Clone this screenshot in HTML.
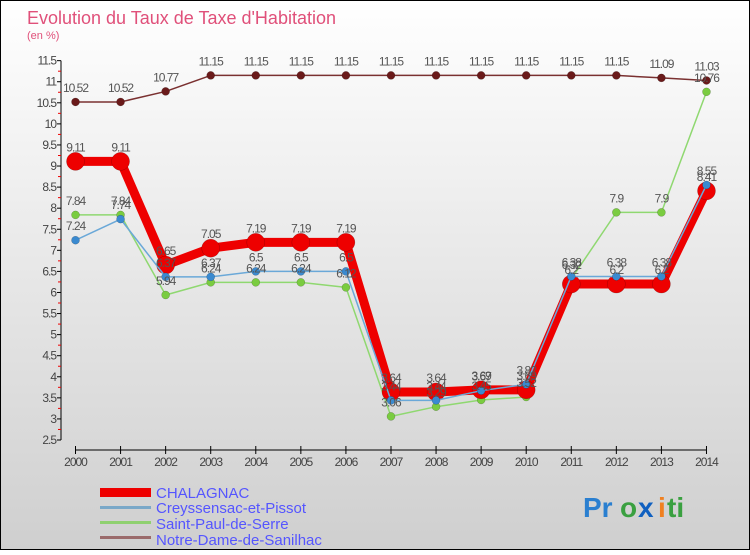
<!DOCTYPE html>
<html><head><meta charset="utf-8"><style>
body{margin:0;width:750px;height:550px;overflow:hidden;font-family:"Liberation Sans",sans-serif}
</style></head><body>
<svg width="750" height="550" xmlns="http://www.w3.org/2000/svg" id="svg">
<defs><linearGradient id="bg" x1="0" y1="0" x2="0" y2="1"><stop offset="0" stop-color="#ffffff"/><stop offset="1" stop-color="#cfcfcf"/></linearGradient></defs>
<rect x="0.5" y="0.5" width="749" height="549" fill="url(#bg)" stroke="#000"/>
<text x="27" y="24" font-size="18" fill="#e0507a">Evolution du Taux de Taxe d'Habitation</text>
<text x="27" y="39" font-size="11" fill="#e0507a">(en %)</text>
<g id="axes"></g><g id="series"></g><g id="labels"></g>
<g font-size="15" fill="#5555ff">
<rect x="100" y="488" width="51" height="9" fill="#ee0000"/><text x="156" y="498">CHALAGNAC</text>
<rect x="100" y="506" width="51" height="3" fill="#7aa8c8"/><text x="156" y="513">Creyssensac-et-Pissot</text>
<rect x="100" y="521" width="51" height="3" fill="#8fd070"/><text x="156" y="529">Saint-Paul-de-Serre</text>
<rect x="100" y="536" width="51" height="3" fill="#9a6a6a"/><text x="156" y="545">Notre-Dame-de-Sanilhac</text>
</g>
<g font-size="28" font-weight="bold">
<text x="583" y="517" fill="#2a7fd0">Pr</text><text x="620" y="517" fill="#3aa040">o</text><text x="638" y="517" fill="#1060c0">x</text><text x="658" y="517" fill="#f08020">i</text><text x="667" y="517" fill="#3aa040">ti</text>
</g>
</svg>
<script>
const years=[2000,2001,2002,2003,2004,2005,2006,2007,2008,2009,2010,2011,2012,2013,2014];
const chalagnac=[9.11,9.11,6.65,7.05,7.19,7.19,7.19,3.64,3.64,3.69,3.69,6.2,6.2,6.2,8.41];
const creyssensac=[7.24,7.74,6.37,6.37,6.5,6.5,6.5,3.44,3.44,3.67,3.82,6.38,6.38,6.38,8.55];
const saintPaul=[7.84,7.84,5.94,6.24,6.24,6.24,6.12,3.06,3.29,3.45,3.52,6.32,7.9,7.9,10.76];
const notreDame=[10.52,10.52,10.77,11.15,11.15,11.15,11.15,11.15,11.15,11.15,11.15,11.15,11.15,11.09,11.03];
const yTicks=[2.5,3,3.5,4,4.5,5,5.5,6,6.5,7,7.5,8,8.5,9,9.5,10,10.5,11,11.5];
const NS="http://www.w3.org/2000/svg";
const x=i=>75.5+i*45.07;
const y=v=>440-(v-2.5)*42.15;
function mk(t,a,p){const e=document.createElementNS(NS,t);for(const k in a)e.setAttribute(k,a[k]);p.appendChild(e);return e;}
const ax=document.getElementById('axes');
let e=mk('line',{x1:61,y1:y(11.5),x2:61,y2:440,stroke:'#000'},ax);

yTicks.forEach((v,i)=>{mk('line',{x1:57,x2:61,y1:y(v),y2:y(v),stroke:'#000'},ax);
 if(i<yTicks.length-1)mk('line',{x1:58,x2:61,y1:y(v+0.25),y2:y(v+0.25),stroke:'#e00'},ax);
 const t=mk('text',{x:56,y:y(v)+4,'font-size':12,'text-anchor':'end',fill:'#444','letter-spacing':'-1'},ax);t.textContent=v;
 });
e=mk('line',{x1:75.5,y1:450,x2:x(14),y2:450,stroke:'#000'},ax);

years.forEach((yr,i)=>{mk('line',{x1:x(i),x2:x(i),y1:446,y2:454,stroke:'#000'},ax);
 const t=mk('text',{x:x(i),y:466,'font-size':12,'text-anchor':'middle',fill:'#444','letter-spacing':'-1'},ax);t.textContent=yr;
 });
const sg=document.getElementById('series'),lg=document.getElementById('labels');
function draw(name,vals,col,w,r,dot){
 const g=mk('g',{},sg);
 mk('polyline',{points:vals.map((v,i)=>x(i)+','+y(v)).join(' '),fill:'none',stroke:col,'stroke-width':w,'stroke-linejoin':'round'},g);
 vals.forEach((v,i)=>{const c=mk('circle',{cx:x(i),cy:y(v),r:r,fill:dot,stroke:'rgba(0,0,0,0.3)','stroke-width':0.5},g);
  
  const t=mk('text',{x:x(i),y:y(v)-10,'font-size':12,'text-anchor':'middle',fill:'#555','letter-spacing':'-1'},lg);t.textContent=v;
  });
}
draw('notre-dame-de-sanilhac',notreDame,'#7a3030',1.5,4,'#6a1a1a');
draw('saint-paul-de-serre',saintPaul,'#8fd870',1.5,4,'#7acc40');
draw('creyssensac-et-pissot',creyssensac,'#6aa8d8',1.5,4,'#3a8ad0');
draw('chalagnac',chalagnac,'#ee0000',9,9,'#ee0000');
sg.insertBefore(sg.lastChild,sg.children[2]);
</script>
</body></html>
